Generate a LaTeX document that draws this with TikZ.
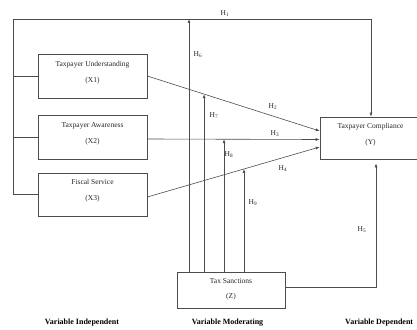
\documentclass[tikz,border=0pt]{standalone}
\usepackage{fontspec}
\setmainfont{Liberation Serif}
\usetikzlibrary{arrows.meta,calc}
\begin{document}
\begin{tikzpicture}[x=1pt,y=-1pt,
  line/.style={draw=black!70, line width=0.6pt},
  arr/.style={line, -{Latex[length=4pt,width=3pt]}},
  varbox/.style={draw=black!70, line width=0.6pt, minimum width=109pt, minimum height=44pt,
    align=center, font=\fontsize{7.5}{16}\selectfont, text depth=9pt, inner sep=0pt, text=black!85},
  hlab/.style={font=\fontsize{7.5}{9}\selectfont, inner sep=0pt, text=black!85},
  capt/.style={font=\fontsize{8}{10}\selectfont\bfseries, inner sep=0pt}]
\useasboundingbox (0,0) rectangle (417,329);
% boxes
\node[varbox] (X1) at (92.5,76) {Taxpayer Understanding\\(X1)};
\node[varbox] (X2) at (92.5,137.5) {Taxpayer Awareness\\(X2)};
\node[varbox, minimum height=43pt] (X3) at (92.5,194.5) {Fiscal Service\\(X3)};
\node[varbox, minimum width=101pt, minimum height=42pt] (Y) at (370.5,138) {Taxpayer Compliance\\(Y)};
\node[varbox, minimum width=108pt, minimum height=36pt, font=\fontsize{7.5}{15}\selectfont, text depth=2.5pt] (Z) at (231,290) {Tax Sanctions\\(Z)};
% frame for H1
\coordinate (TL) at (13,19);
\coordinate (TR) at (371,19);
\coordinate (BL) at (13,194.5);
\draw[arr] (BL) -- (TL) -- (TR) -- (TR |- Y.north);
\draw[line] (X1.west -| TL) -- (X1.west);
\draw[line] (X2.west -| TL) -- (X2.west);
\draw[line] (X3.west -| TL) -- (X3.west);
% direct paths
\draw[arr] (X1.east) -- ([yshift=7pt]Y.west) coordinate[pos=0.3295] (m7);
\draw[arr] ([yshift=-1.5pt]X2.east) -- ([yshift=-1.5pt]Y.west) coordinate[pos=0.445] (m8);
\draw[arr] ([yshift=-2.5pt]X3.east) -- ([yshift=-9pt]Y.west) coordinate[pos=0.5607] (m9);
% moderating paths
\coordinate (h6) at (189,0);
\draw[arr] (Z.north -| h6) -- (TL -| h6);
\draw[arr] (Z.north -| m7) -- (m7);
\draw[arr] (Z.north -| m8) -- (m8);
\draw[arr] (Z.north -| m9) -- (m9);
\coordinate (h5) at (376,0);
\draw[arr] ([yshift=3pt]Z.east) -- ([yshift=3pt]Z.east -| h5) -- ([yshift=-4pt]Y.south -| h5);
% labels
\node[hlab] (l1) at (225,14) {H\textsubscript{1}};
\node[hlab] (l2) at (273,107) {H\textsubscript{2}};
\node[hlab] (l3) at (275,134) {H\textsubscript{3}};
\node[hlab] (l4) at (283,169) {H\textsubscript{4}};
\node[hlab] (l5) at (362,230) {H\textsubscript{5}};
\node[hlab] (l6) at (198,55) {H\textsubscript{6}};
\node[hlab] (l7) at (214,116) {H\textsubscript{7}};
\node[hlab] (l8) at (229,155) {H\textsubscript{8}};
\node[hlab] (l9) at (253,203) {H\textsubscript{9}};
% captions
\node[capt] (c1) at (82,323) {Variable Independent};
\node[capt] (c2) at (227.5,323) {Variable Moderating};
\node[capt, anchor=west] (c3) at (345,323) {Variable Dependent};
\end{tikzpicture}
\end{document}
